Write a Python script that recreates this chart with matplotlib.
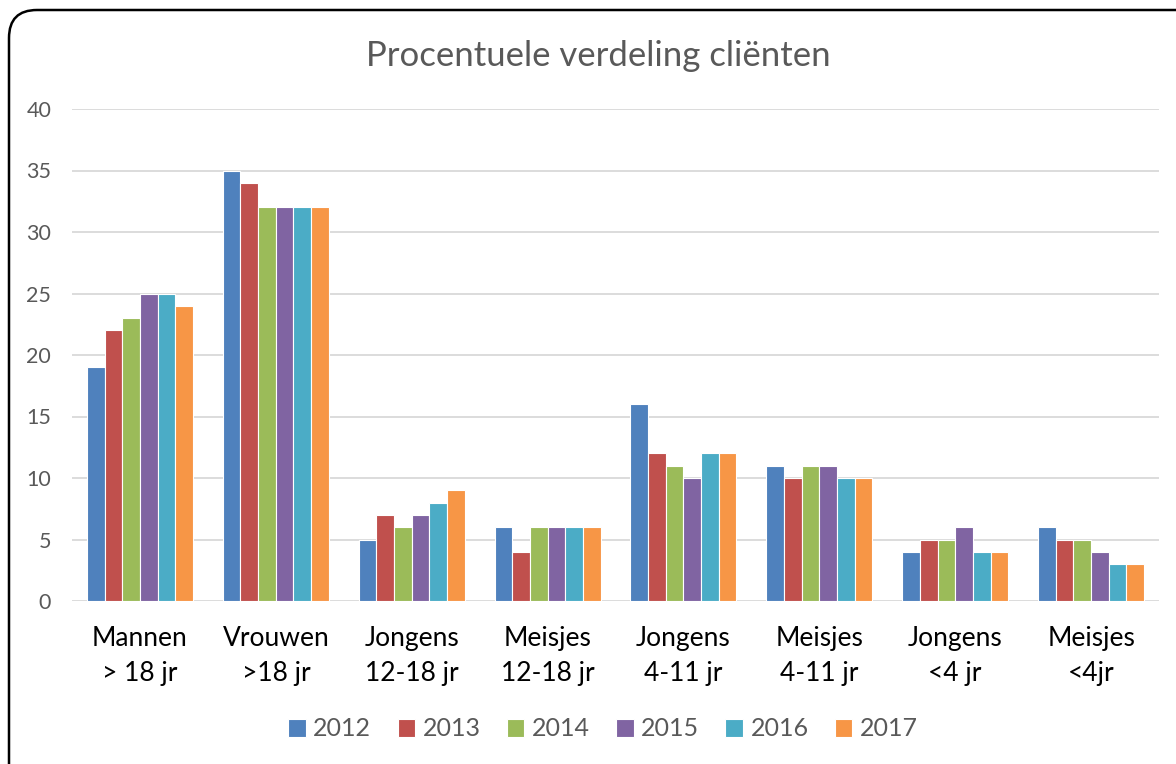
import matplotlib
matplotlib.use("Agg")
import matplotlib.pyplot as plt
import numpy as np
from matplotlib.patches import FancyBboxPatch
from matplotlib.transforms import IdentityTransform

categories = ["Mannen\n> 18 jr", "Vrouwen\n>18 jr", "Jongens\n12-18 jr", "Meisjes\n12-18 jr",
              "Jongens\n4-11 jr", "Meisjes\n4-11 jr", "Jongens\n<4 jr", "Meisjes\n<4jr"]
years = ["2012", "2013", "2014", "2015", "2016", "2017"]
v2012 = [19, 35, 5, 6, 16, 11, 4, 6]
v2013 = [22, 34, 7, 4, 12, 10, 5, 5]
v2014 = [23, 32, 6, 6, 11, 11, 5, 5]
v2015 = [25, 32, 7, 6, 10, 11, 6, 4]
v2016 = [25, 32, 8, 6, 12, 10, 4, 3]
v2017 = [24, 32, 9, 6, 12, 10, 4, 3]
series = [v2012, v2013, v2014, v2015, v2016, v2017]
colors = ["#4F81BD", "#C0504D", "#9BBB59", "#8064A2", "#4BACC6", "#F79646"]
yticks = [0, 5, 10, 15, 20, 25, 30, 35, 40]

plt.rcParams['font.family'] = ['Lato', 'DejaVu Sans']
W, H = 1176, 764
fig = plt.figure(figsize=(W / 100, H / 100), dpi=100)

frame = FancyBboxPatch((9, -40), 1200, H - 10 + 40, boxstyle="round,pad=0,rounding_size=28",
                       transform=IdentityTransform(), facecolor="white", edgecolor="black",
                       linewidth=1.8, zorder=-1)
fig.patches.append(frame)

ax = fig.add_axes([72 / W, 1 - 601 / H, (1159 - 72) / W, (601 - 109) / H])
ax.set_zorder(2)
ax.set_facecolor("none")
x = np.arange(len(categories))
n = len(series)
bw = 0.78 / n
for i, (vals, c, y) in enumerate(zip(series, colors, years)):
    ax.bar(x - 0.39 + bw * (i + 0.5), vals, width=bw, color=c, edgecolor="white",
           linewidth=0.8, label=y, zorder=3)

ax.set_xlim(-0.5, len(categories) - 0.5)
ax.set_ylim(0, 40)
ax.set_yticks(yticks)
ax.set_yticklabels([str(t) for t in yticks], fontsize=15.5, color="#595959")
ax.set_xticks(x)
ax.set_xticklabels(categories, fontsize=19, color="black", linespacing=1.5)
ax.tick_params(axis="both", length=0)
ax.tick_params(axis="y", pad=15)
ax.tick_params(axis="x", pad=18)
ax.grid(axis="y", color="#D9D9D9", linewidth=1.3, zorder=0)
for s in ax.spines.values():
    s.set_visible(False)

fig.text(598 / W, 1 - 56 / H, "Procentuele verdeling cliënten", ha="center", va="center",
         fontsize=25, color="#595959")

leg = fig.legend(loc="center", bbox_to_anchor=(603 / W, 1 - 729 / H), ncol=6, frameon=False,
                 fontsize=18, handlelength=0.7, handleheight=0.7, handletextpad=0.3,
                 columnspacing=1.05)
for t in leg.get_texts():
    t.set_color("#595959")

fig.savefig("out.png", dpi=100)
